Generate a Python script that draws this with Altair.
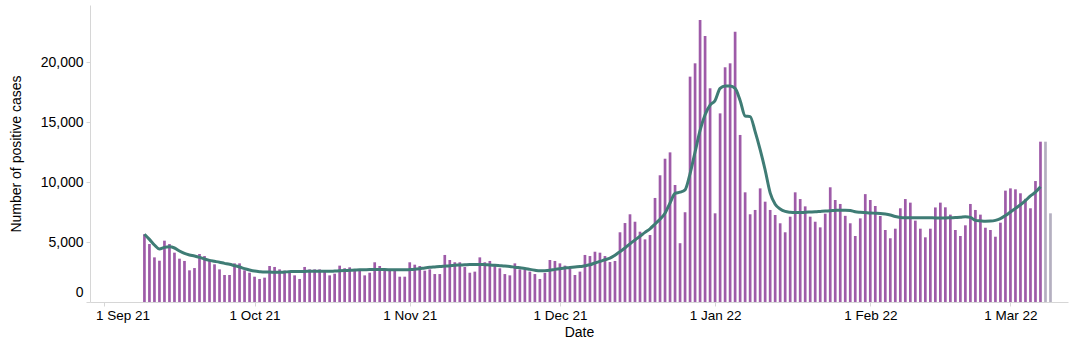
import altair as alt
import pandas as pd

# Daily positive cases, 9 Sep 2021 .. 9 Mar 2022
cases_sep = [5650, 4830, 3720, 3440, 5110, 4830, 4110, 3610, 3420, 2640, 2830, 4000, 3830, 3440,
             3140, 2720, 2250, 2250, 3220, 3220, 2640, 2440]
cases_oct = [2110, 1920, 2030, 3000, 2920, 2720, 2610, 2610, 2220, 1920, 2920, 2720, 2720, 2720,
             2580, 2220, 2360, 3030, 2810, 2890, 2720, 2610, 2220, 2440, 3310, 3000, 2610, 2610,
             2610, 2110, 2110]
cases_nov = [3310, 3110, 3000, 2610, 2720, 2330, 2330, 3920, 3500, 3310, 3310, 2920, 2440, 2530,
             3720, 3310, 3420, 3000, 2810, 2330, 2220, 3220, 2720, 2720, 2530, 2330, 1920, 2420,
             3500, 3420]
cases_dec = [3220, 3030, 2750, 2250, 2530, 3920, 3830, 4190, 4110, 3830, 3330, 3420, 5810, 6580,
             7310, 6690, 5860, 5220, 5580, 8670, 10560, 11940, 12470, 9750, 4900, 7480, 18780,
             19890, 23500, 22170, 17810]
cases_jan = [7390, 15720, 19560, 19890, 22530, 13920, 9140, 7310, 7670, 9470, 8360, 7670, 7250,
             6560, 5810, 7110, 9140, 8580, 7970, 7110, 6690, 6220, 7360, 9560, 8500, 8170, 7180,
             6560, 5500, 6970, 8990]
cases_feb = [8500, 8000, 7170, 6000, 5310, 6110, 7810, 8580, 8280, 6780, 6110, 5390, 6110, 7880,
             8280, 7890, 7280, 6000, 5500, 6390, 8170, 7670, 7280, 6190, 6000, 5440, 6610, 9280]
cases_mar = [9470, 9390, 9060, 8600, 7810, 10080, 13360, 13360, 7390]

# 7-day average line, 9 Sep 2021 .. 7 Mar 2022
avg_sep = [5650, 5220, 4750, 4420, 4550, 4600, 4500, 4250, 4050, 3920, 3830, 3720, 3580, 3470,
           3390, 3310, 3220, 3140, 3030, 2920, 2780, 2670]
avg_oct = [2580, 2530, 2500, 2500, 2470, 2470, 2500, 2530, 2550, 2550, 2550, 2560, 2560, 2560,
           2560, 2560, 2580, 2600, 2620, 2640, 2660, 2680, 2690, 2700, 2700, 2700, 2700, 2690,
           2680, 2680, 2680]
avg_nov = [2700, 2730, 2780, 2840, 2890, 2920, 2950, 2990, 3030, 3060, 3080, 3100, 3120, 3130,
           3130, 3110, 3080, 3060, 3030, 3000, 2960, 2900, 2850, 2800, 2720, 2650, 2600, 2610,
           2650, 2720]
avg_dec = [2780, 2830, 2880, 2920, 2950, 3020, 3100, 3250, 3380, 3520, 3650, 3900, 4200, 4500,
           4850, 5170, 5480, 5800, 6100, 6500, 6900, 7400, 8250, 9050, 9150, 9350, 10700, 12500,
           14300, 15600, 16400]
avg_jan = [16800, 17800, 18000, 18000, 17800, 16800, 15500, 15450, 14200, 12700, 11000, 9100,
           8150, 7750, 7550, 7480, 7450, 7450, 7480, 7500, 7520, 7550, 7580, 7600, 7630, 7650,
           7650, 7620, 7520, 7480, 7450]
avg_feb = [7420, 7400, 7380, 7330, 7250, 7120, 7050, 7030, 7030, 7030, 7030, 7030, 7020, 7000,
           7000, 7000, 7020, 7040, 7060, 7100, 7050, 6800, 6760, 6730, 6740, 6800, 6950, 7200]
avg_mar = [7500, 7800, 8100, 8450, 8850, 9150, 9600]

n_incomplete = 2  # last bars drawn in grey

cases = cases_sep + cases_oct + cases_nov + cases_dec + cases_jan + cases_feb + cases_mar
avg = avg_sep + avg_oct + avg_nov + avg_dec + avg_jan + avg_feb + avg_mar

bar_dates = pd.date_range("2021-09-09", periods=len(cases), freq="D")
line_dates = pd.date_range("2021-09-09", periods=len(avg), freq="D")

bars_df = pd.DataFrame({
    "date": bar_dates.strftime("%Y-%m-%dT00:00:00"),
    "cases": cases,
    "status": ["complete"] * (len(cases) - n_incomplete) + ["incomplete"] * n_incomplete,
})
line_df = pd.DataFrame({
    "date": line_dates.strftime("%Y-%m-%dT00:00:00"),
    "avg": avg,
})

FONT = "Liberation Sans"

x_scale = alt.Scale(domain=[
    alt.DateTime(year=2021, month=8, date=30, hours=3),
    alt.DateTime(year=2022, month=3, date=11, hours=12),
])
y_scale = alt.Scale(domain=[0, 24750], nice=False)

x_axis = alt.Axis(
    title="Date", format="%-d %b %y",
    tickCount={"interval": "month", "step": 1},
    grid=False, tickSize=4, labelPadding=2, titlePadding=4,
    labelFlush=15, labelFlushOffset=9, labelFontSize=13.5,
)
y_axis = alt.Axis(
    title="Number of positive cases", format=",.0f",
    values=[0, 5000, 10000, 15000, 20000],
    grid=False, tickSize=4, labelPadding=3, labelFlush=True, labelFlushOffset=-3,
    titlePadding=17, labelFontSize=14,
)

bars = alt.Chart(bars_df).mark_bar(size=2.7).encode(
    x=alt.X("date:T", scale=x_scale, axis=x_axis),
    y=alt.Y("cases:Q", scale=y_scale, axis=y_axis),
    color=alt.Color("status:N",
                    scale=alt.Scale(domain=["complete", "incomplete"],
                                    range=["#9e5ba8", "#b4afc0"]),
                    legend=None),
)

line = alt.Chart(line_df).mark_line(color="#3f7c75", strokeWidth=3, interpolate="monotone").encode(
    x=alt.X("date:T", scale=x_scale),
    y=alt.Y("avg:Q", scale=y_scale),
)

chart = alt.layer(bars, line).properties(
    width=978, height=297,
    autosize=alt.AutoSizeParams(type="none"),
    padding={"left": 90, "top": 5, "right": 12, "bottom": 50},
    background="white",
).configure_view(stroke=None).configure_axis(
    labelFont=FONT, titleFont=FONT, titleFontSize=14,
    titleFontWeight="normal", labelColor="#000", titleColor="#000",
    domainColor="#d6d6d6", tickColor="#d6d6d6",
)

chart.save("out.html", embed_options={"renderer": "svg", "actions": False})
